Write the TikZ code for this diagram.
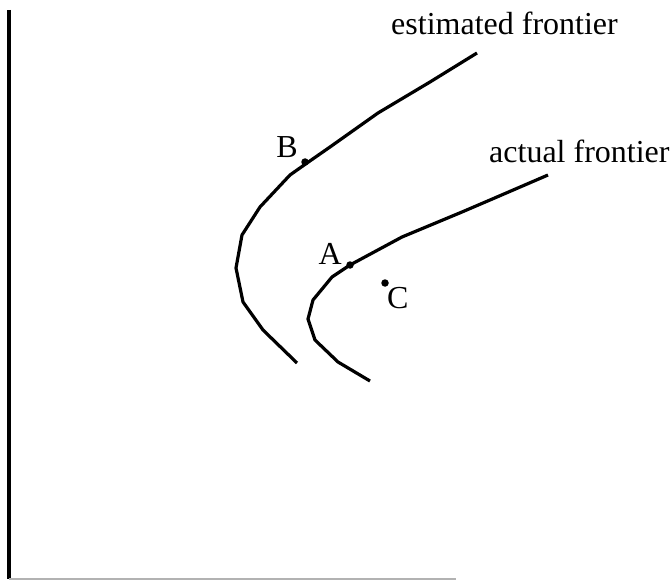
\documentclass[tikz,border=0pt]{standalone}
\usepackage{fontspec}
\setmainfont{Liberation Serif}
\usetikzlibrary{positioning}
\begin{document}
\begin{tikzpicture}[x=1pt, y=-1pt, line join=round,
        frontier/.style={line width=3.2pt},
        pt/.style={circle, fill=black, inner sep=0pt, minimum size=7.5pt},
        lbl/.style={inner sep=0pt, font=\fontsize{32}{38}\selectfont}]
        \useasboundingbox (0,0) rectangle (672,588);

        % axes
        \draw[line width=3.4pt] (9,10) -- (9,579);
        \draw[gray!60, line width=1.2pt] (9,579) -- (456,579);

        % estimated frontier
        \draw[frontier] (477,53) -- (430,82) -- (378,113) -- (330,147) -- (307,163) -- (290,175)
            -- (260,207) -- (242,235) -- (236,268) -- (243,302) -- (263,330) -- (297,363);
        % actual frontier
        \draw[frontier] (548,175) -- (490,200) -- (462,212) -- (402,237) -- (350,265) -- (332,277)
            -- (313,300) -- (308,319) -- (315,340) -- (338,362) -- (370,381);

        \node[pt] (B) at (305,162) {};
        \node[pt] (A) at (350,265) {};
        \node[pt] (C) at (385,283) {};

        \node[lbl, anchor=base east] at (298,158) {B};
        \node[lbl, anchor=base east] at (342,265) {A};
        \node[lbl, anchor=base west] at (387,308) {C};

        \node[lbl, anchor=base west] (est) at (391,35) {estimated frontier};
        \node[lbl, anchor=base west] (act) at (489,163) {actual frontier};
    \end{tikzpicture}
\end{document}
